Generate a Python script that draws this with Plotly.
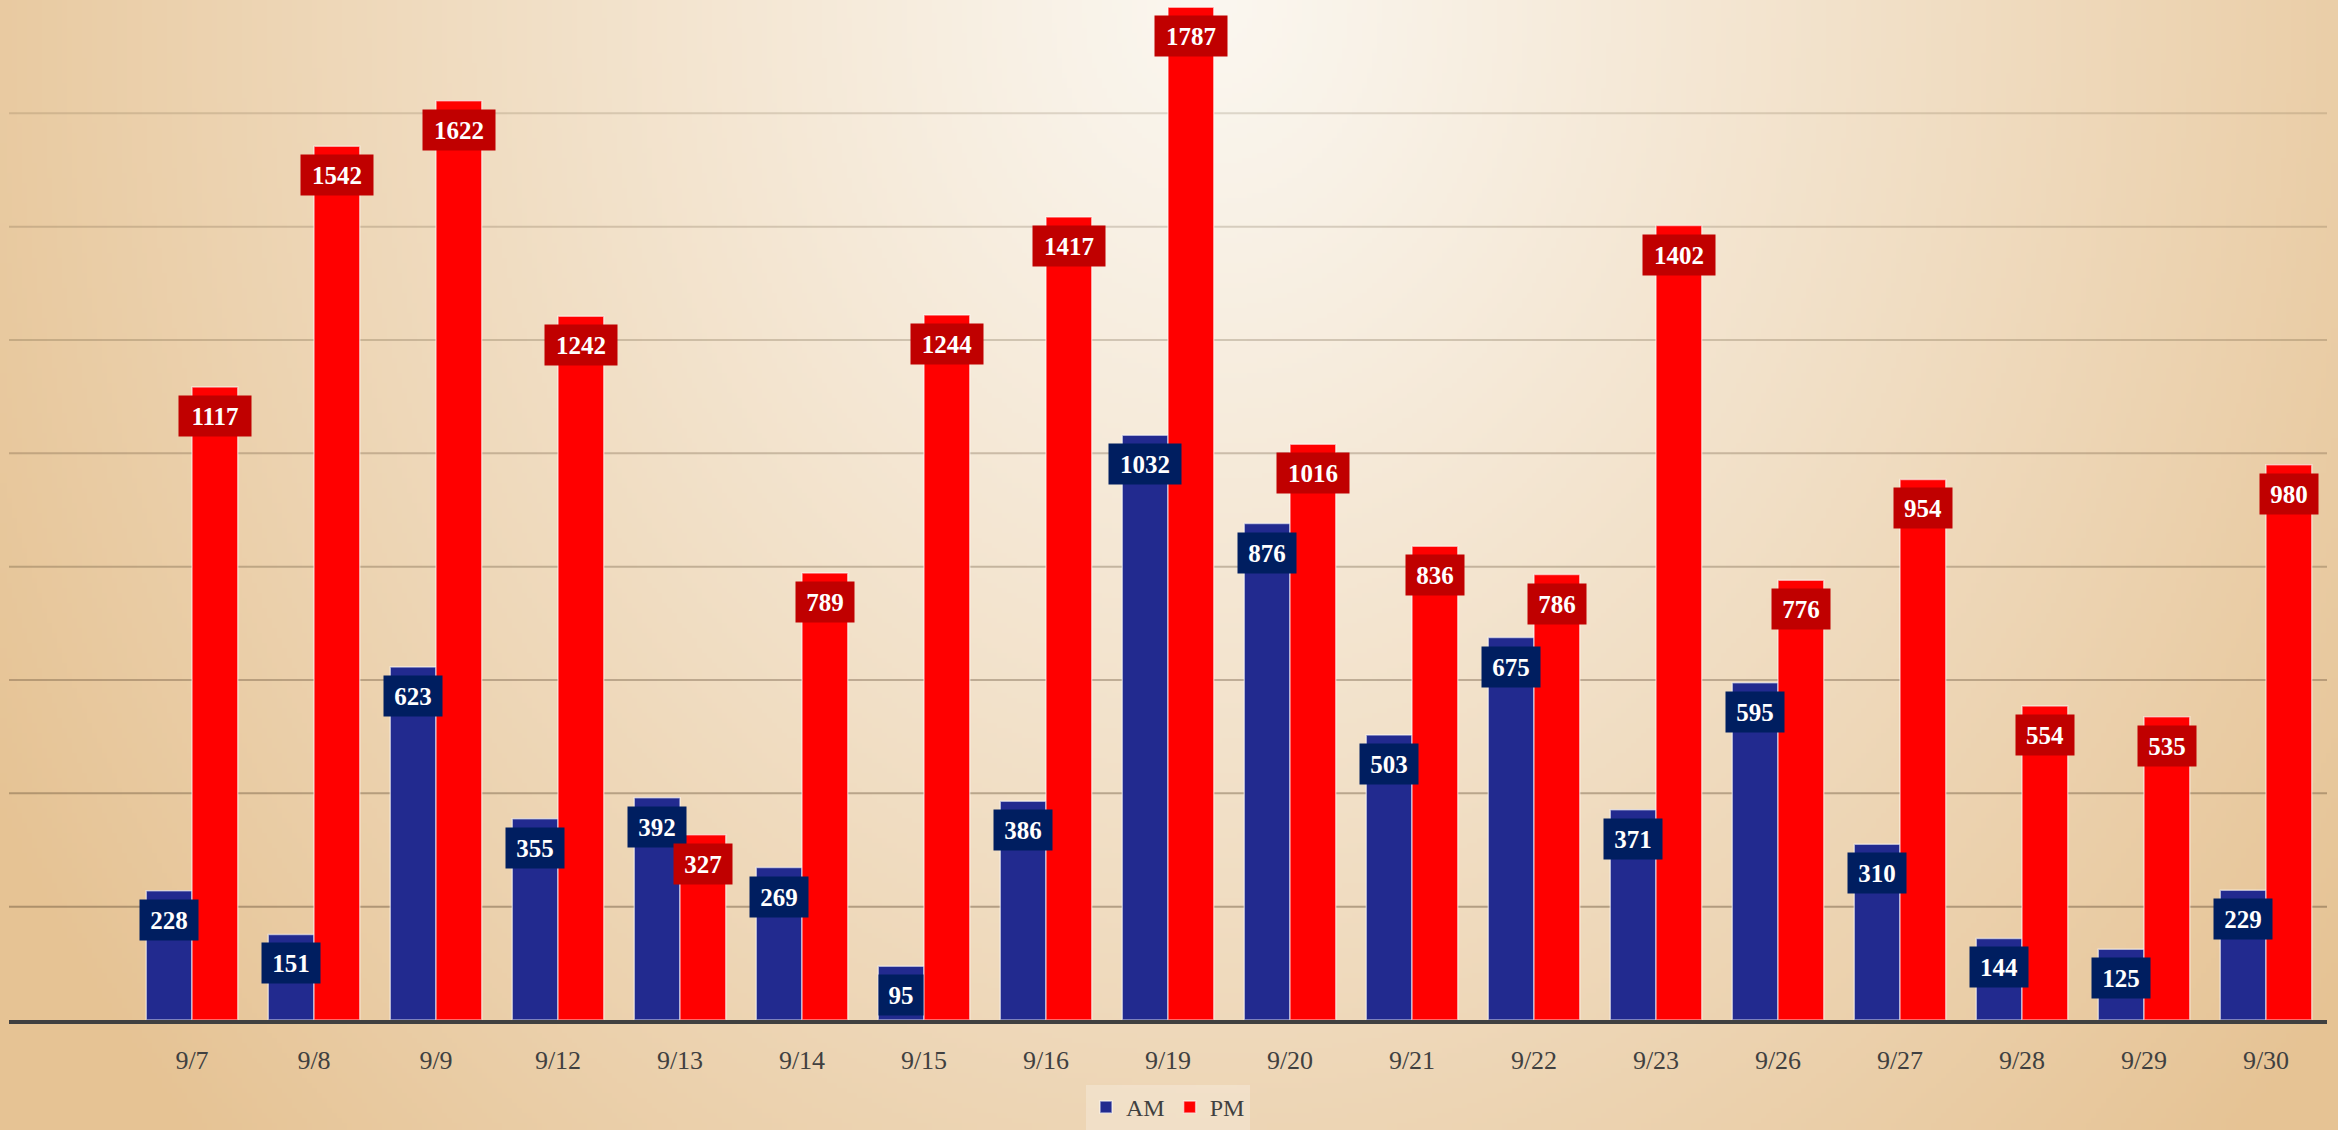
import base64, struct, zlib
import numpy as np
import plotly.graph_objects as go

dates = ["9/7", "9/8", "9/9", "9/12", "9/13", "9/14", "9/15", "9/16", "9/19",
         "9/20", "9/21", "9/22", "9/23", "9/26", "9/27", "9/28", "9/29", "9/30"]
am_values = [228, 151, 623, 355, 392, 269, 95, 386, 1032,
             876, 503, 675, 371, 595, 310, 144, 125, 229]
pm_values = [1117, 1542, 1622, 1242, 327, 789, 1244, 1417, 1787,
             1016, 836, 786, 1402, 776, 954, 554, 535, 980]

W, H = 2338, 1130
ML, MR, MT, MB = 9, 11, 0, 110
PW, PH = W - ML - MR, H - MT - MB


# ---------- radial background gradient as PNG ----------
def gradient_png(w, h):
    yy, xx = np.mgrid[0:h, 0:w].astype(float)
    dx = (xx / (w - 1) - 0.52) / 0.6
    dy = (yy / (h - 1)) / 1.5
    t = np.clip(np.sqrt(dx ** 2 + dy ** 2), 0, 1) ** 1.1
    t = t[..., None]
    c0 = np.array([251, 247, 240], float)
    c1 = np.array([230, 195, 148], float)
    img = (c0 * (1 - t) + c1 * t).astype(np.uint8)
    raw = b"".join(b"\x00" + img[r].tobytes() for r in range(h))

    def chunk(tag, data):
        return (struct.pack(">I", len(data)) + tag + data +
                struct.pack(">I", zlib.crc32(tag + data) & 0xFFFFFFFF))

    png = b"\x89PNG\r\n\x1a\n"
    png += chunk(b"IHDR", struct.pack(">IIBBBBB", w, h, 8, 2, 0, 0, 0))
    png += chunk(b"IDAT", zlib.compress(raw, 9))
    png += chunk(b"IEND", b"")
    return "data:image/png;base64," + base64.b64encode(png).decode()


bg = gradient_png(468, 226)

xs = list(range(len(dates)))
half = 0.1875  # half of bar width in category units (bargap 0.25, 2 bars)

SERIF = "Liberation Serif, Times New Roman, serif"

fig = go.Figure()
fig.add_trace(go.Bar(
    name="AM", x=xs, y=am_values,
    marker=dict(color="#222A8F", line=dict(color="rgba(255,255,255,0.55)", width=1.5)),
    hoverinfo="x+y",
))
fig.add_trace(go.Bar(
    name="PM", x=xs, y=pm_values,
    marker=dict(color="#FF0000", line=dict(color="rgba(255,255,255,0.55)", width=1.5)),
    hoverinfo="x+y",
))

annotations = []
for vals, off, box in ((am_values, -half, "#001E60"), (pm_values, half, "#C00000")):
    for i, v in zip(xs, vals):
        s = str(v)
        annotations.append(dict(
            x=i + off, y=v, xref="x", yref="y",
            text="<b>%s</b>" % s, showarrow=False,
            xanchor="center", yanchor="top", yshift=-8,
            font=dict(family=SERIF, size=25, color="white"),
            bgcolor=box, borderpad=7,
            width=14 * len(s) + 2, height=26, align="center",
        ))

# gridlines (darker near the baseline, fading upward)
shapes = []
grid_vals = list(range(200, 1800, 200))
for k, gv in enumerate(grid_vals):
    a = 0.42 - 0.24 * k / (len(grid_vals) - 1)
    shapes.append(dict(
        type="line", xref="paper", yref="y", x0=0, x1=1, y0=gv, y1=gv,
        line=dict(color="rgba(95,75,50,%.3f)" % a, width=2), layer="below",
    ))

fig.update_layout(
    width=W, height=H,
    margin=dict(l=ML, r=MR, t=MT, b=MB, pad=0),
    paper_bgcolor="#EBD2AE",
    plot_bgcolor="rgba(0,0,0,0)",
    barmode="group", bargap=0.25, bargroupgap=0,
    font=dict(family=SERIF, color="#404040"),
    showlegend=True,
    legend=dict(
        orientation="h", x=0.5, xanchor="center",
        yref="container", y=0.0, yanchor="bottom",
        bgcolor="rgba(255,255,255,0.25)",
        font=dict(family=SERIF, size=24, color="#404040"),
    ),
    xaxis=dict(
        range=[-1.5, len(dates) - 0.5],
        tickvals=xs, ticktext=dates,
        tickfont=dict(family=SERIF, size=26, color="#404040"),
        ticks="", ticklabelstandoff=14,
        showgrid=False, zeroline=False,
        showline=True, linecolor="#404040", linewidth=4,
        automargin=False,
    ),
    yaxis=dict(
        range=[0, 1800], showgrid=False, zeroline=False,
        showticklabels=False, ticks="", showline=False,
        automargin=False,
    ),
    annotations=annotations,
    shapes=shapes,
    images=[dict(
        source=bg, xref="paper", yref="paper",
        x=-ML / PW, y=1 + MT / PH, sizex=W / PW, sizey=H / PH,
        xanchor="left", yanchor="top", sizing="stretch", layer="below",
    )],
)

fig.write_html(
    "out.html",
    config={"displayModeBar": False},
    post_script="document.body.style.margin='0';document.body.style.overflow='hidden';",
)
